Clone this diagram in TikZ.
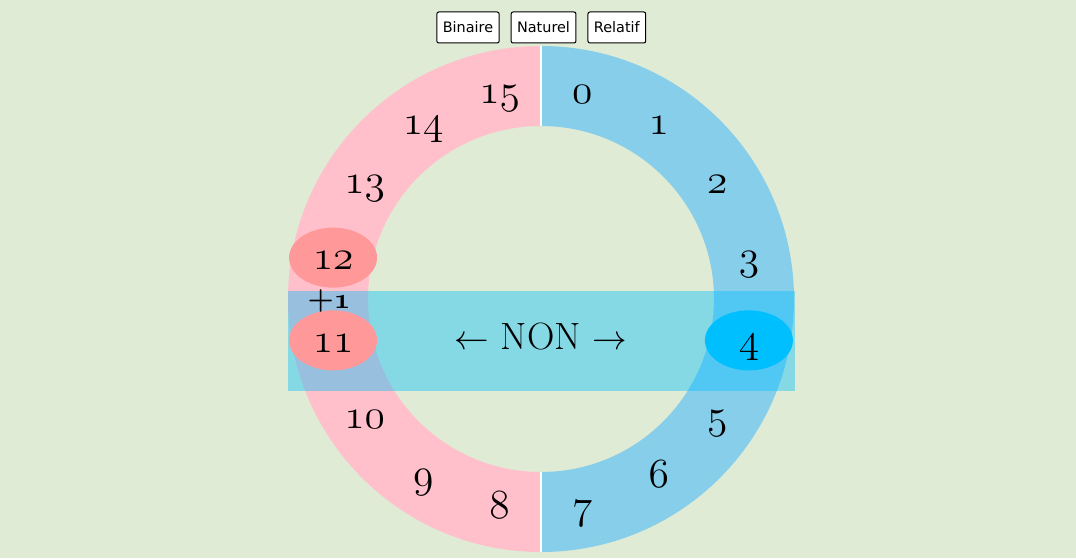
\documentclass[tikz,border=0pt]{standalone}
\usepackage{fontspec}
\newfontfamily\btnfont{DejaVu Sans}
\usepackage{tikz}
\usetikzlibrary{calc, positioning}

\definecolor{bgcol}{RGB}{223,235,213}
\definecolor{ringpink}{RGB}{255,192,203}
\definecolor{ringblue}{RGB}{135,206,235}
\definecolor{hlred}{RGB}{255,153,153}
\definecolor{hlblue}{RGB}{0,191,255}

% old-style digits from the math italic font
\newcommand\osdigits{\usefont{OML}{lmm}{m}{it}}
\newcommand\osbdigits{\usefont{OML}{cmm}{b}{it}}

\begin{document}
\begin{tikzpicture}[x=0.5pt, y=0.5pt,
    num/.style={inner sep=0pt, text height=10pt, text depth=0pt,
        font=\fontsize{22}{26}\osdigits},
    btn/.style={draw, fill=white, rounded corners=1pt, line width=0.5pt,
        inner xsep=3pt, inner ysep=0pt, minimum height=15.5pt,
        font=\btnfont\fontsize{7.2}{9}\selectfont},
    band/.style={fill=hlblue, fill opacity=0.4, inner sep=0pt,
        minimum width=253.5pt, minimum height=50pt}]

        % Background and frame
        \useasboundingbox (-541,-259) rectangle (535,299);
        \fill[bgcol] (-541,-259) rectangle (535,299);

        % Ring: left half pink, right half blue
        \fill[ringpink] (90:253) arc[start angle=90, end angle=270, radius=126.5pt]
            -- (270:173) arc[start angle=270, end angle=90, radius=86.5pt] -- cycle;
        \fill[ringblue] (-90:253) arc[start angle=-90, end angle=90, radius=126.5pt]
            -- (90:173) arc[start angle=90, end angle=-90, radius=86.5pt] -- cycle;
        \draw[white, line width=0.6pt] (90:173) -- (90:253);
        \draw[white, line width=0.6pt] (270:173) -- (270:253);

        % Positions of the sixteen values
        \foreach \i in {0,...,15}
            \coordinate (p\i) at ({78.75-22.5*\i}:212);

        % Horizontal band
        \node[band] (band) at (0.5,-42) {};

        % Highlighted values
        \fill[hlred] (p12) ellipse [x radius=22pt, y radius=15pt];
        \fill[hlred] (p11) ellipse [x radius=22pt, y radius=15pt];
        \fill[hlblue] (p4) ellipse [x radius=22pt, y radius=15pt];

        % Values around the ring
        \foreach \i in {0,...,15}
            \node[num] (n\i) at ($(p\i)+(0,-2)$) {\i};

        % Step label
        \node[anchor=base, inner sep=0pt, font=\bfseries\fontsize{15}{17}\selectfont]
            (plus) at (-212,-9) {+{\osbdigits 1}};

        % Centre text
        \node[inner sep=0pt, text height=13pt, text depth=0pt,
            font=\fontsize{19}{22}\selectfont] (non) at (0,-37)
            {$\leftarrow$ NON $\rightarrow$};

        % Buttons
        \node[btn] (bin) at (-73,271.5) {Binaire};
        \node[btn, right=5.5pt of bin] (nat) {Naturel};
        \node[btn, right=5.5pt of nat] (rel) {Relatif};
    \end{tikzpicture}
\end{document}
